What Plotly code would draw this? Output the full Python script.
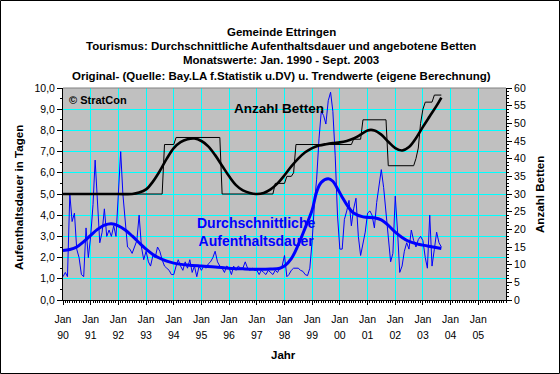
import plotly.graph_objects as go
import pandas as pd

# ---------------- data ----------------
months = pd.date_range("1990-01-01", periods=165, freq="MS")  # Jan 1990 .. Sep 2003

dauer = [
    # 1990
    1.1, 1.3, 1.1, 5.0, 3.7, 4.1, 2.4, 2.0, 1.2, 1.1, 3.4, 2.0,
    # 1991
    3.0, 4.5, 6.6, 4.6, 2.7, 3.2, 4.3, 3.0, 3.3, 3.0, 3.5, 3.0,
    # 1992
    4.8, 7.0, 5.0, 3.6, 2.5, 2.4, 2.2, 2.5, 2.8, 4.0, 2.5, 1.9,
    # 1993
    2.3, 1.8, 1.6, 2.1, 2.0, 2.5, 2.3, 1.9, 1.6, 1.5, 1.4, 1.2,
    # 1994
    1.2, 1.6, 1.9, 1.6, 1.4, 1.8, 1.5, 1.9, 1.3, 1.6, 1.1, 1.6,
    # 1995
    1.4, 1.6, 1.5, 1.7, 1.8, 2.0, 2.3, 1.8, 1.6, 1.5, 1.3, 1.6,
    # 1996
    1.5, 1.2, 1.6, 1.4, 1.6, 1.5, 1.5, 1.8, 1.5, 1.4, 1.5, 1.4,
    # 1997
    1.4, 1.2, 1.4, 1.3, 1.2, 1.4, 1.3, 1.2, 1.4, 1.3, 1.5, 1.6,
    # 1998
    2.1, 1.1, 1.2, 1.4, 1.5, 1.5, 1.5, 1.4, 1.35, 1.2, 1.15, 1.5,
    # 1999
    2.8, 4.6, 5.7, 7.6, 8.9, 8.7, 8.3, 9.4, 9.8, 8.9, 6.8, 4.0,
    # 2000
    2.4, 2.4, 3.8, 4.2, 4.7, 3.5, 4.3, 4.8, 3.0, 2.1, 2.6, 3.2,
    # 2001
    4.1, 4.2, 4.0, 3.4, 4.6, 5.5, 6.15, 5.3, 4.0, 2.9, 1.8, 2.2,
    # 2002
    4.9, 3.2, 1.3, 1.6, 2.3, 2.7, 2.4, 3.3, 2.8, 2.5, 2.85, 3.0,
    # 2003 (Jan - Sep)
    2.8, 2.0, 1.5, 4.0, 1.6, 2.4, 3.2, 2.7, 2.5,
]

dauer_trend_dates = [
    "1990-01-01", "1990-04-01", "1990-07-01", "1990-10-01", "1991-01-01", "1991-04-01",
    "1991-07-01", "1991-10-01", "1992-01-01", "1992-04-01", "1992-07-01", "1992-10-01",
    "1993-01-01", "1993-04-01", "1993-07-01", "1993-10-01", "1994-01-01", "1994-07-01",
    "1995-01-01", "1995-07-01", "1996-01-01", "1996-07-01", "1997-01-01", "1997-07-01",
    "1997-11-01", "1998-01-01", "1998-04-01", "1998-07-01", "1998-10-01", "1999-01-01",
    "1999-03-01", "1999-05-01", "1999-08-01", "1999-10-01", "1999-12-01", "2000-02-01",
    "2000-04-01", "2000-07-01", "2000-11-01", "2001-04-01", "2001-07-01", "2001-10-01",
    "2002-01-01", "2002-04-01", "2002-07-01", "2002-11-01", "2003-03-01", "2003-09-01",
]
dauer_trend = [
    2.34, 2.38, 2.5, 2.75, 3.05, 3.33,
    3.53, 3.6, 3.5, 3.3, 3.02, 2.7,
    2.4, 2.15, 1.97, 1.83, 1.74, 1.65,
    1.6, 1.56, 1.5, 1.47, 1.45, 1.46,
    1.5, 1.6, 1.95, 2.6, 3.4, 4.25,
    5.1, 5.55, 5.72, 5.6, 5.25, 4.85,
    4.5, 4.1, 3.92, 3.88, 3.78, 3.52,
    3.2, 2.95, 2.76, 2.63, 2.55, 2.43,
]

betten_dates = [
    "1990-01-01", "1993-08-01", "1993-09-01", "1994-01-01", "1994-02-01", "1995-09-01",
    "1995-10-01", "1997-08-01", "1997-09-01", "1998-01-01", "1998-02-01", "1998-04-01",
    "1998-05-01", "1998-06-01", "2000-06-01", "2000-07-01", "2000-10-01", "2000-11-01",
    "2001-09-01", "2001-10-01", "2002-09-01", "2002-10-01", "2002-11-01", "2002-12-01",
    "2003-01-01", "2003-02-01", "2003-05-01", "2003-06-01", "2003-09-01",
]
betten = [
    30, 30, 44, 44, 46, 46,
    30, 30, 33, 33, 35, 35,
    36, 44, 44, 45.5, 45.5, 51,
    51, 38, 38, 40, 43, 50,
    54, 56, 56, 58, 58,
]

betten_trend_dates = [
    "1990-01-01", "1991-01-01", "1992-01-01", "1992-07-01", "1992-10-01", "1993-01-01",
    "1993-04-01", "1993-07-01", "1993-10-01", "1994-01-01", "1994-04-01", "1994-07-01",
    "1994-10-01", "1995-01-01", "1995-04-01", "1995-07-01", "1995-10-01", "1996-01-01",
    "1996-04-01", "1996-07-01", "1996-10-01", "1997-01-01", "1997-04-01", "1997-07-01",
    "1997-10-01", "1998-01-01", "1998-04-01", "1998-07-01", "1998-10-01", "1999-01-01",
    "1999-04-01", "1999-07-01", "1999-10-01", "2000-01-01", "2000-04-01", "2000-07-01",
    "2000-10-01", "2001-01-01", "2001-04-01", "2001-07-01", "2001-10-01", "2002-01-01",
    "2002-04-01", "2002-07-01", "2002-10-01", "2003-01-01", "2003-04-01", "2003-07-01",
    "2003-09-01",
]
betten_trend = [
    30, 30, 30, 30, 30.4, 31.3,
    33.5, 36.5, 40, 43, 44.7, 45.5,
    45.7, 45, 43.5, 41, 38, 35,
    32.5, 31, 30.3, 30.0, 30.3, 31.3,
    33, 35.3, 37.8, 40, 41.8, 43,
    43.7, 44.1, 44.4, 44.6, 45.0, 45.7,
    46.8, 48.0, 48.0, 46.8, 44.8, 43.0,
    42.3, 43.3, 45.8, 49, 52, 55,
    57.3,
]

year_ticks = [f"{y}-01-01" for y in range(1990, 2006)]
month_labels = ["Jan"] * len(year_ticks)
year_labels = [str(y)[2:] for y in range(1990, 2006)]
left_ticks = list(range(0, 11))
left_labels = [f"{v},0" for v in left_ticks]
right_ticks = list(range(0, 61, 5))

title_lines = [
    "Gemeinde Ettringen",
    "Tourismus: Durchschnittliche Aufenthaltsdauer und angebotene Betten",
    "Monatswerte: Jan. 1990 - Sept. 2003",
    "Original- (Quelle: Bay.LA f.Statistik u.DV) u. Trendwerte (eigene Berechnung)",
]

# ---------------- figure ----------------
FONT = "Liberation Sans, Arial, sans-serif"
BLUE = "#0000FF"
fig = go.Figure()

fig.add_trace(go.Scatter(x=months, y=dauer, mode="lines", line=dict(color=BLUE, width=1),
                         name="Aufenthaltsdauer (Original)", yaxis="y"))
fig.add_trace(go.Scatter(x=dauer_trend_dates, y=dauer_trend, mode="lines",
                         line=dict(color=BLUE, width=3, shape="spline"),
                         name="Aufenthaltsdauer (Trend)", yaxis="y"))
fig.add_trace(go.Scatter(x=betten_dates, y=betten, mode="lines", line=dict(color="black", width=1),
                         name="Betten (Original)", yaxis="y2"))
fig.add_trace(go.Scatter(x=betten_trend_dates, y=betten_trend, mode="lines",
                         line=dict(color="black", width=2.6, shape="spline"),
                         name="Betten (Trend)", yaxis="y2"))
# carrier for the second row of x tick labels (year numbers)
fig.add_trace(go.Scatter(x=[year_ticks[0]], y=[None], xaxis="x2", yaxis="y",
                         mode="lines", hoverinfo="skip", showlegend=False))

W, H = 560, 374
L, R, T, B = 63, 54, 88, 74
pw, ph = W - L - R, H - T - B


def px(X):
    return (X - L) / pw


def py(Y):
    return (H - B - Y) / ph


annotations = []
for line, Y in zip(title_lines, [32, 46, 60.5, 75.5]):
    annotations.append(dict(text=f"<b>{line}</b>", x=px(281), y=py(Y), xref="paper", yref="paper",
                            xanchor="center", yanchor="middle", showarrow=False,
                            font=dict(family=FONT, size=11.5, color="black")))
annotations += [
    dict(text="<b>Aufenthaltsdauer in Tagen</b>", x=px(18), y=py(198), xref="paper", yref="paper",
         textangle=-90, showarrow=False, xanchor="center", yanchor="middle",
         font=dict(family=FONT, size=11.6, color="black")),
    dict(text="<b>Anzahl Betten</b>", x=px(539), y=py(195), xref="paper", yref="paper",
         textangle=-90, showarrow=False, xanchor="center", yanchor="middle",
         font=dict(family=FONT, size=11.6, color="black")),
    dict(text="<b>Jahr</b>", x=px(283), y=py(355), xref="paper", yref="paper",
         showarrow=False, xanchor="center", yanchor="middle",
         font=dict(family=FONT, size=11.5, color="black")),
    dict(text="<b>© StratCon</b>", x=px(67), y=py(100), xref="paper", yref="paper",
         showarrow=False, xanchor="left", yanchor="middle",
         font=dict(family=FONT, size=11, color="black")),
    dict(text="<b>Anzahl Betten</b>", x=px(278.5), y=py(108), xref="paper", yref="paper",
         showarrow=False, xanchor="center", yanchor="middle",
         font=dict(family=FONT, size=13.5, color="black")),
    dict(text="<b>Durchschnittliche<br>Aufenthaltsdauer</b>", x=px(256), y=py(232),
         xref="paper", yref="paper", showarrow=False, xanchor="center", yanchor="middle",
         font=dict(family=FONT, size=14, color=BLUE)),
]

shapes = [
    dict(type="line", xref="paper", yref="paper", x0=0, x1=1, y0=1, y1=1,
         line=dict(color="#808080", width=1), layer="above"),
    dict(type="rect", xref="paper", yref="paper", x0=px(0.5), x1=px(W - 0.5), y0=py(H - 0.5), y1=py(0.5),
         line=dict(color="black", width=1), fillcolor="rgba(0,0,0,0)", layer="above"),
]

TICKFONT = dict(family=FONT, size=10.5, color="black")

fig.update_layout(
    width=W, height=H,
    margin=dict(l=L, r=R, t=T, b=B, autoexpand=False),
    paper_bgcolor="white", plot_bgcolor="#C0C0C0",
    showlegend=False,
    font=dict(family=FONT, size=11, color="black"),
    annotations=annotations,
    shapes=shapes,
    xaxis=dict(
        type="date", range=["1990-01-01", "2006-01-01"],
        tickmode="array", tickvals=year_ticks, ticktext=month_labels,
        showgrid=True, gridcolor="#00FFFF", gridwidth=1,
        showline=True, linecolor="black", linewidth=1,
        ticks="outside", ticklen=4, tickcolor="black", ticklabelstandoff=5,
        minor=dict(dtick="M1", ticks="outside", ticklen=2, tickcolor="black", showgrid=False),
        tickfont=TICKFONT, zeroline=False,
    ),
    xaxis2=dict(
        type="date", overlaying="x", matches="x", anchor="y", side="bottom",
        tickmode="array", tickvals=year_ticks, ticktext=year_labels,
        showgrid=False, showline=False, ticks="", ticklabelstandoff=27,
        tickfont=TICKFONT, zeroline=False,
    ),
    yaxis=dict(
        range=[0, 10], tickmode="array", tickvals=left_ticks, ticktext=left_labels,
        showgrid=True, gridcolor="#00FFFF", gridwidth=1,
        showline=True, linecolor="black", linewidth=1,
        ticks="outside", ticklen=5, tickcolor="black",
        minor=dict(dtick=0.5, ticks="outside", ticklen=2, tickcolor="black", showgrid=False),
        tickfont=TICKFONT, zeroline=False,
    ),
    yaxis2=dict(
        range=[0, 60], overlaying="y", side="right",
        tickmode="array", tickvals=right_ticks,
        showgrid=False, showline=True, linecolor="black", linewidth=1,
        ticks="outside", ticklen=5, tickcolor="black",
        minor=dict(dtick=1, ticks="outside", ticklen=2, tickcolor="black", showgrid=False),
        tickfont=TICKFONT, zeroline=False,
    ),
)

fig.write_html("out.html", config={"displayModeBar": False},
               post_script="document.body.style.margin='0px';")
